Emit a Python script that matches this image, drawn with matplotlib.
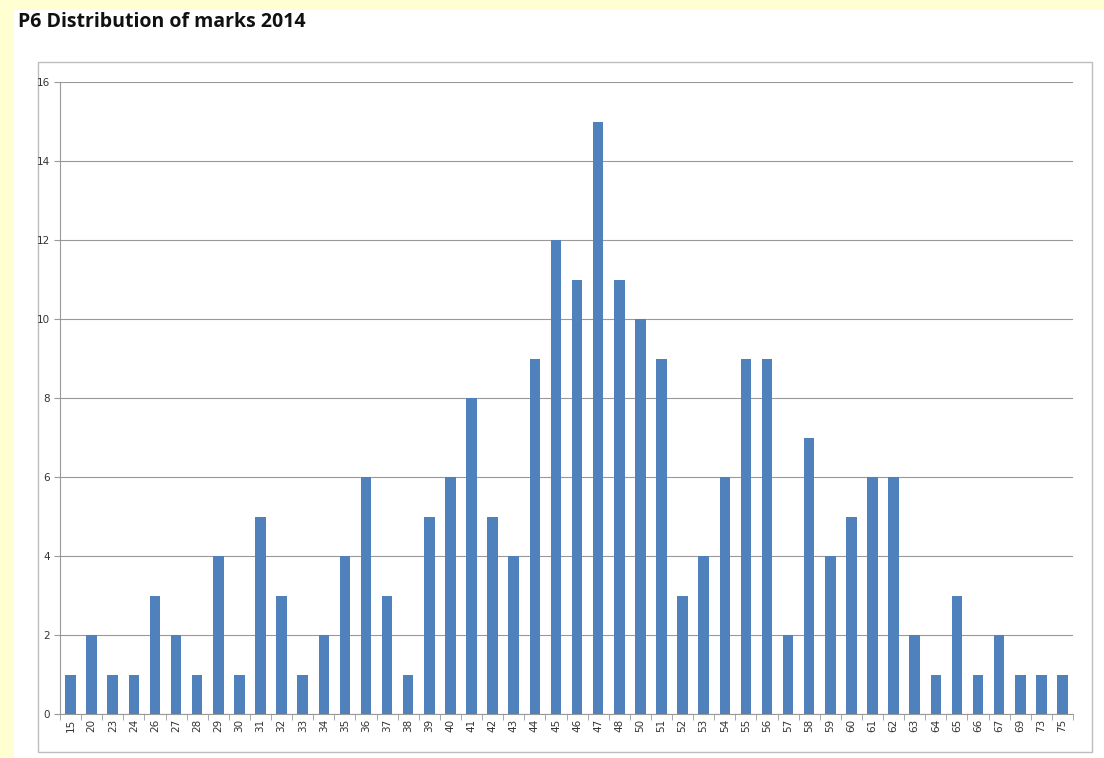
import numpy as np
import matplotlib.pyplot as plt
from matplotlib.patches import Rectangle

# dados do grafico
marcas = ['15', '20', '23', '24', '26', '27', '28', '29', '30', '31', '32', '33',
          '34', '35', '36', '37', '38', '39', '40', '41', '42', '43', '44', '45',
          '46', '47', '48', '50', '51', '52', '53', '54', '55', '56', '57', '58',
          '59', '60', '61', '62', '63', '64', '65', '66', '67', '69', '73', '75']
quantidade = [1, 2, 1, 1, 3, 2, 1, 4, 1, 5, 3, 1, 2, 4, 6, 3, 1, 5, 6, 8, 5, 4, 9, 12,
              11, 15, 11, 10, 9, 3, 4, 6, 9, 9, 2, 7, 4, 5, 6, 6, 2, 1, 3, 1, 2, 1, 1, 1]

W, H = 1104, 758
fig = plt.figure(figsize=(W / 100, H / 100), dpi=100)
fig.patch.set_facecolor('#ffffd2')

# painel branco e moldura do grafico
fig.patches.append(Rectangle((14 / W, 0), 1 - 14 / W, 1 - 10 / H, transform=fig.transFigure,
                             facecolor='white', edgecolor='none', zorder=-2))
fig.patches.append(Rectangle((38 / W, 6 / H), (1092 - 38) / W, (752 - 62) / H,
                             transform=fig.transFigure, facecolor='none',
                             edgecolor='#bdbdbd', linewidth=1, zorder=-1))

fig.text(18 / W, 1 - 22 / H, 'P6 Distribution of marks 2014', fontsize=14,
         fontweight='bold', family='Open Sans', va='center', ha='left', color='#111111')

ax = fig.add_axes([60 / W, 1 - 714 / H, (1073 - 60) / W, (714 - 82) / H])
ax.set_zorder(2)
ax.set_facecolor('none')
x = np.arange(len(marcas))
ax.bar(x, quantidade, width=0.5, color='#4f81bd', zorder=3)

ax.set_xlim(-0.5, len(marcas) - 0.5)
ax.set_ylim(0, 16)
ax.set_yticks(range(0, 17, 2))
ax.set_xticks(x)
ax.set_xticklabels(marcas, rotation=90, fontsize=7.5, color='#333333')
ax.tick_params(axis='y', labelsize=7.5, colors='#333333', length=4, color='#999999')
ax.set_xticks(np.arange(-0.5, len(marcas), 1), minor=True)
ax.tick_params(axis='x', which='major', length=0)
ax.tick_params(axis='x', which='minor', length=4, color='#999999')
ax.grid(axis='y', color='#999999', linewidth=0.8, zorder=0)

for lado in ['top', 'right']:
    ax.spines[lado].set_visible(False)
ax.spines['left'].set_color('#999999')
ax.spines['bottom'].set_color('#999999')

plt.savefig('out.png', dpi=100)
